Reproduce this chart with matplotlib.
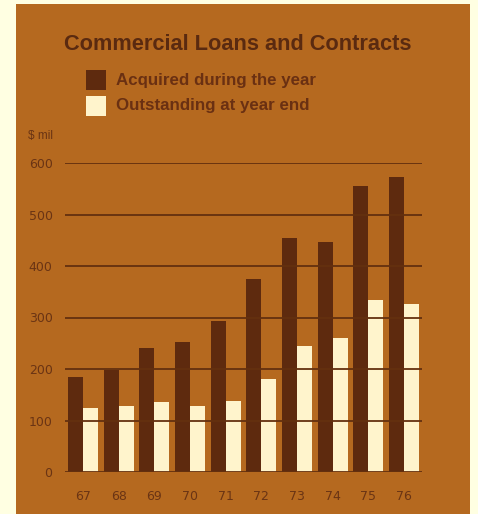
import numpy as np
import matplotlib.pyplot as plt
from matplotlib.patches import Rectangle

years = ['67', '68', '69', '70', '71', '72', '73', '74', '75', '76']
acquired = [185, 199, 240, 253, 293, 375, 455, 447, 555, 573]
outstanding = [124, 129, 135, 129, 138, 180, 245, 261, 334, 327]
yticks = [0, 100, 200, 300, 400, 500, 600]

bg = '#B5691F'
dark = '#5E2A0E'
light = '#FFF4CC'
ink = '#5A2A10'

W, H = 478, 514
fig = plt.figure(figsize=(W / 100, H / 100), dpi=100)
fig.patch.set_facecolor('#FFFFE2')

# brown card behind everything
fig.patches.append(Rectangle((16 / W, 0), (470 - 16) / W, (H - 4) / H,
                             transform=fig.transFigure, facecolor=bg,
                             edgecolor='none', zorder=-10))

ax = fig.add_axes([65 / W, (H - 472) / H, (422 - 65) / W, (472 - 163) / H])
ax.set_facecolor('none')

x = np.arange(len(years))
w = 0.42
ax.bar(x - w / 2, acquired, w, color=dark, zorder=2)
ax.bar(x + w / 2, outstanding, w, color=light, zorder=2)
for v in yticks:
    ax.axhline(v, color='#64300F', lw=1.3, zorder=3)

ax.set_xlim(-0.505, len(years) - 1 + 0.505)
ax.set_ylim(0, 600)
for s in ax.spines.values():
    s.set_visible(False)
ax.set_yticks(yticks)
ax.set_yticklabels([str(v) for v in yticks])
ax.set_xticks(x)
ax.set_xticklabels(years)
ax.tick_params(length=0, labelsize=9, labelcolor='#6A3414')
ax.tick_params(axis='y', pad=9)
ax.tick_params(axis='x', pad=13)

fig.text(238 / W, 1 - 45 / H, 'Commercial Loans and Contracts',
         ha='center', va='center', fontsize=15.7, fontweight='bold',
         color=ink, family='Liberation Sans')

fig.patches.append(Rectangle((86 / W, 1 - 90 / H), 20 / W, 20 / H,
                             transform=fig.transFigure, facecolor=dark,
                             edgecolor='none'))
fig.patches.append(Rectangle((86 / W, 1 - 116 / H), 20 / W, 20 / H,
                             transform=fig.transFigure, facecolor=light,
                             edgecolor='none'))
fig.text(116 / W, 1 - 80 / H, 'Acquired during the year', ha='left',
         va='center', fontsize=12.2, fontweight='bold', color='#6A3012',
         family='Liberation Sans')
fig.text(116 / W, 1 - 106 / H, 'Outstanding at year end', ha='left',
         va='center', fontsize=12.2, fontweight='bold', color='#6A3012',
         family='Liberation Sans')
fig.text(28 / W, 1 - 136 / H, '$ mil', ha='left', va='center',
         fontsize=8.5, color='#6A3414', family='Liberation Sans')

fig.savefig('out.png', dpi=100, facecolor=fig.get_facecolor())
